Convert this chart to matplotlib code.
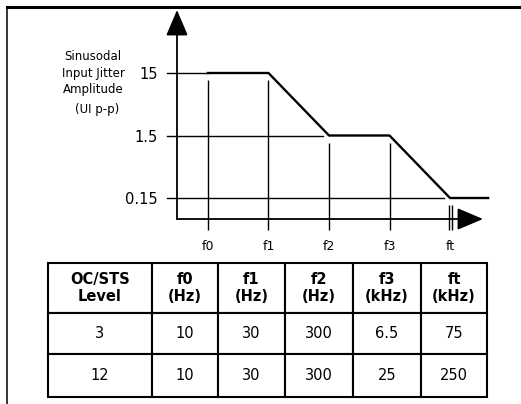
import matplotlib
matplotlib.use('Agg')
import matplotlib.pyplot as plt
from matplotlib.lines import Line2D
from matplotlib.ticker import NullLocator

W, H = 521, 404

# jitter mask break points (schematic, equally spaced on the drawing)
freq_labels = ['f0', 'f1', 'f2', 'f3', 'ft']
mask_x = [0, 1, 2, 3, 4, 4.63]
mask_amp = [15, 15, 1.5, 1.5, 0.15, 0.15]
amp_levels = [15, 1.5, 0.15]
amp_labels = ['15', '1.5', '0.15']

# table
table_header = ['OC/STS\nLevel', 'f0\n(Hz)', 'f1\n(Hz)', 'f2\n(Hz)', 'f3\n(kHz)', 'ft\n(kHz)']
oc_level = ['3', '12']
f0_hz = ['10', '10']
f1_hz = ['30', '30']
f2_hz = ['300', '300']
f3_khz = ['6.5', '25']
ft_khz = ['75', '250']


def fx(px):
    return px / W


def fy(py):
    return 1 - py / H


plt.rcParams['font.family'] = ['DejaVu Sans']
fig = plt.figure(figsize=(W / 100, H / 100), dpi=100)

# outer frame (top + left)
fig.add_artist(Line2D([fx(7), 1], [fy(7), fy(7)], transform=fig.transFigure, color='black', lw=2.2))
fig.add_artist(Line2D([fx(7), fx(7)], [fy(7), 0], transform=fig.transFigure, color='black', lw=1.1))

ax = fig.add_axes([fx(177), fy(219), fx(483) - fx(177), (219 - 10) / H])
ax.set_yscale('log')
ax.set_xlim(-0.512, 4.545)
ax.set_ylim(0.0692, 152.8)
for s in ax.spines.values():
    s.set_visible(False)
ax.patch.set_alpha(0)
ax.yaxis.set_minor_locator(NullLocator())
ax.set_yticks(amp_levels, amp_labels, fontsize=10.5)
ax.set_xticks(range(len(freq_labels)), freq_labels, fontsize=9)
ax.tick_params(axis='y', length=0, pad=14)
ax.tick_params(axis='x', length=0, pad=15)

# axes with arrow heads
arrow = dict(arrowstyle='-|>,head_length=1.6,head_width=0.68', lw=1.3, color='black',
             shrinkA=0, shrinkB=0)
ax.annotate('', xy=(0, 1), xytext=(0, 0), xycoords='axes fraction', arrowprops=arrow)
ax.annotate('', xy=(1, 0), xytext=(0, 0), xycoords='axes fraction', arrowprops=arrow)

# horizontal reference lines
line_ends = [0, 1.9, 3.9]
for lvl, xe in zip(amp_levels, line_ends):
    ax.plot([-0.677, xe], [lvl, lvl], color='black', lw=1.0, clip_on=False)

# vertical markers at the break frequencies (start a bit below the plateau)
for i in range(4):
    ax.vlines(mask_x[i], 0.046, mask_amp[i] * 0.77, color='black', lw=1.0, clip_on=False)
# ft marker drawn as a break
ax.vlines([mask_x[4] - 0.025, mask_x[4] + 0.025], 0.046, mask_amp[4] * 0.77,
          color='black', lw=1.0, clip_on=False)

# jitter tolerance mask
ax.plot(mask_x, mask_amp, color='black', lw=1.7, clip_on=False)

# y label block
fig.text(fx(93), fy(73), 'Sinusodal\nInput Jitter\nAmplitude', ha='center', va='center',
         fontsize=8.5, linespacing=1.35)
fig.text(fx(97), fy(109), '(UI p-p)', ha='center', va='center', fontsize=8.5)

# table
tax = fig.add_axes([fx(48), fy(397), fx(487) - fx(48), (397 - 263) / H])
tax.axis('off')
rows = [list(r) for r in zip(oc_level, f0_hz, f1_hz, f2_hz, f3_khz, ft_khz)]
col_w = [104, 66, 67, 68, 68, 66]
tbl = tax.table(cellText=rows, colLabels=table_header, cellLoc='center',
                colWidths=[w / sum(col_w) for w in col_w], bbox=[0, 0, 1, 1])
tbl.auto_set_font_size(False)
tbl.set_fontsize(10.5)
row_h = [50, 41, 43]
for (r, c), cell in tbl.get_celld().items():
    cell.set_linewidth(1.5)
    cell.set_height(row_h[r] / sum(row_h))
    if r == 0:
        cell.get_text().set_fontweight('bold')
        cell.get_text().set_linespacing(1.15)

fig.savefig('out.png', dpi=100)
